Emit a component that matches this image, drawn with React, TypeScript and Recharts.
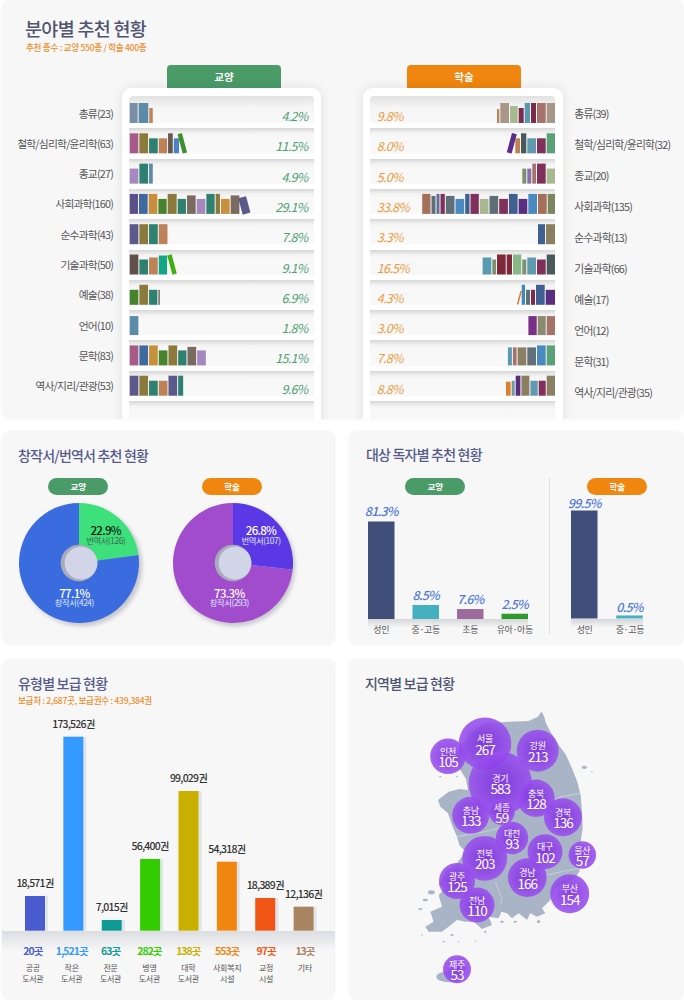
import {
  Bar,
  BarChart,
  Cell,
  LabelList,
  Pie,
  PieChart,
  Scatter,
  ScatterChart,
  XAxis,
  YAxis,
  ZAxis,
} from "recharts";

const FONT = '"Noto Sans CJK KR", "Noto Sans", sans-serif';
const GREEN = "#4a9b68";
const ORANGE = "#f0860f";
const TITLE = "#565a8c";

// shelves
const liberalLabels = ["총류(23)", "철학/심리학/윤리학(63)", "종교(27)", "사회과학(160)", "순수과학(43)", "기술과학(50)", "예술(38)", "언어(10)", "문학(83)", "역사/지리/관광(53)"];
const liberalShares = ["4.2%", "11.5%", "4.9%", "29.1%", "7.8%", "9.1%", "6.9%", "1.8%", "15.1%", "9.6%"];
const academicLabels = ["총류(39)", "철학/심리학/윤리학(32)", "종교(20)", "사회과학(135)", "순수과학(13)", "기술과학(66)", "예술(17)", "언어(12)", "문학(31)", "역사/지리/관광(35)"];
const academicShares = ["9.8%", "8.0%", "5.0%", "33.8%", "3.3%", "16.5%", "4.3%", "3.0%", "7.8%", "8.8%"];

const liberalBookWidths = [
  [9, 10.6, 4.5],
  [9.7, 9.7, 9.7, 9.3, 5.7, 6.3, 5.5],
  [9.7, 9.7, 4.7],
  [9.3, 9.7, 9.7, 9.3, 10, 9.3, 9.7, 9.7, 9.3, 5.3, 9.7, 9.7, 9],
  [9.7, 9.7, 9.7, 9.7],
  [9.7, 9.7, 9.7, 9.3, 1.7, 5.5],
  [9.7, 9.7, 9.3, 2.5],
  [9.7],
  [9.7, 9.7, 9.7, 9.7, 9.7, 9.3, 9.7, 9.7],
  [9.7, 9.7, 9.7, 9.7, 9.7, 6],
];
const liberalBookHeights = [
  [20, 20, 15],
  [20, 20, 15, 15, 20, 15, 20],
  [15, 20, 20],
  [20, 20, 20, 15, 20, 15, 18.5, 15, 20, 20, 15, 18.5, 17],
  [20, 20, 20, 20],
  [20, 15, 17, 19, 0, 20],
  [15, 20, 15, 15],
  [19],
  [20, 20, 20, 15, 20, 15, 18.5, 15],
  [20, 20, 15, 15, 20, 20],
];
const liberalBookColors = [
  ["#7b8ea8", "#5b8ba8", "#bd8258"],
  ["#a55a88", "#8c7a3c", "#2e8070", "#bd8258", "#66584f", "#4f80c0", "#3f8f2a"],
  ["#a588bd", "#2e8070", "#5b8ba8"],
  ["#5b4f8a", "#3f6aa0", "#c8903c", "#47832f", "#8c7a3c", "#2e8070", "#7a6a5f", "#a588bd", "#2e8070", "#8c7a3c", "#c8903c", "#7a6a5f", "#5a5a8a"],
  ["#5b5a8a", "#8c7a3c", "#2e8070", "#bd8258"],
  ["#5f5049", "#2e8070", "#bd8258", "#12a586", "none", "#3fae10"],
  ["#47832f", "#8c7a3c", "#2e8070", "#7a6a5f"],
  ["#5b8ba8"],
  ["#a55a88", "#3f6aa0", "#c8903c", "#47832f", "#8c7a3c", "#2e8070", "#7a6a5f", "#a588bd"],
  ["#5b5a8a", "#8c7a3c", "#2e8070", "#bd8258", "#5b5a8a", "#2e8070"],
];
const liberalTilts: Record<string, number> = { "1-6": -15, "3-12": -15, "5-5": -15 };

const academicBookWidths = [
  [9.3, 9.7, 6, 6.3, 6, 8.7, 9.7, 3.3],
  [9.3, 9.7, 9.7, 6.3, 5.7, 6],
  [9.3, 9.7, 4.7, 5, 5],
  [8.3, 9.7, 9.7, 9.7, 9.7, 9.7, 9.7, 9.7, 9.3, 5.3, 9.7, 9.7, 5.3, 4, 5, 9.3],
  [10, 8],
  [9.3, 9.7, 9.7, 5, 9.3, 6.3, 9.7, 4.7, 9.7],
  [10.3, 9.7, 5, 5, 4.3, 0.6, 2.5],
  [9.3, 9, 9.3],
  [9.3, 9.7, 9.7, 9.7, 4.7, 5],
  [9.3, 8, 8.3, 9, 5.7, 4, 5.7],
];
const academicBookHeights = [
  [20, 20, 20, 20, 15, 17, 20, 14],
  [20, 15, 15, 20, 15, 20],
  [15, 20, 20, 15, 15],
  [20, 20, 20, 15, 20, 15, 18, 15, 20, 20, 15, 18, 20, 20, 18, 20],
  [20, 20],
  [20, 15, 17, 15, 20, 20, 20, 15, 17],
  [15, 20, 15, 15, 20, 0, 14],
  [19, 19, 19],
  [20, 20, 18, 18, 18, 18],
  [20, 15, 15, 20, 20, 15, 14],
];
const academicBookColors = [
  ["#a89688", "#a5736a", "#7c2a50", "#5a9ab0", "#7c2a50", "#a8b890", "#a89688", "#bd8258"],
  ["#5aa078", "#80305a", "#5f9ab0", "#4a5a5a", "#bd8258", "#5a2d8a"],
  ["#a8b890", "#80305a", "#a5736a", "#8a70a8", "#7d9070"],
  ["#7d8460", "#a5705a", "#4a8ac0", "#5a2d80", "#3f6090", "#80305a", "#5f6f78", "#a8b890", "#80305a", "#3f6090", "#4a8ac0", "#5f6f78", "#80305a", "#5f6f9a", "#5f6f78", "#a5705a"],
  ["#8a7f60", "#3f6090"],
  ["#4a5a5a", "#80305a", "#5f9ab0", "#7d9070", "#88b888", "#7c2a3a", "#7c2a3a", "#7d9070", "#5a9ab0"],
  ["#5a2d80", "#3f6090", "#7c2a50", "#5f7078", "#3a8ac0", "none", "#e07a30"],
  ["#a5736a", "#8a8a70", "#7a3088"],
  ["#5aa078", "#4a8ac0", "#5f7078", "#8a7f60", "#a5736a", "#5a9ab0"],
  ["#8a7f60", "#80305a", "#5f9ab0", "#8a7f60", "#5a2d80", "#6f9aa8", "#e0802a"],
];
const academicTilts: Record<string, number> = { "1-5": 15, "6-6": 15 };

// original / translated
const originLabels = ["번역서", "창작서"];
const liberalOrigin = [22.9, 77.1];
const liberalOriginCounts = [126, 424];
const academicOrigin = [26.8, 73.3];
const academicOriginCounts = [107, 293];

// readers. The printed figures and the drawn bars are not in proportion in the
// source, so the levels are read off the bars themselves.
const liberalReaders = ["성인", "중·고등", "초등", "유아·아동"];
const liberalReaderText = ["81.3%", "8.5%", "7.6%", "2.5%"];
const liberalReaderLevels = [81.3, 11.7, 8.3, 4.4];
const academicReaders = ["성인", "중·고등"];
const academicReaderText = ["99.5%", "0.5%"];
const academicReaderLevels = [99.5, 2.8];

// supply by library type, same note on levels
const typeNames = [["공공", "도서관"], ["작은", "도서관"], ["전문", "도서관"], ["병영", "도서관"], ["대학", "도서관"], ["사회복지", "시설"], ["교정", "시설"], ["기타"]];
const typePlaces = ["20곳", "1,521곳", "63곳", "282곳", "138곳", "553곳", "97곳", "13곳"];
const typeVolumes = ["18,571권", "173,526권", "7,015권", "56,400권", "99,029권", "54,318권", "18,389권", "12,136권"];
const typeLevels = [31040, 173526, 9570, 64130, 124950, 61720, 29250, 21470];
const typeColors = ["#4a5bd0", "#3399ff", "#0f9a96", "#33cc00", "#c9b000", "#f0860f", "#f05515", "#a98460"];

// supply by region
const regionNames = ["서울", "인천", "강원", "경기", "충북", "충남", "세종", "경북", "대전", "대구", "울산", "전북", "경남", "부산", "광주", "전남", "제주"];
const regionCounts = [267, 105, 213, 583, 128, 133, 59, 136, 93, 102, 57, 203, 166, 154, 125, 110, 53];
const regionEast = [143, 106, 195.7, 158.3, 194, 128.7, 159.7, 221, 170, 203, 240.3, 142.7, 185.3, 227.7, 115, 135, 115];
const regionSouth = [88.7, 101.3, 95.7, 128.3, 143.3, 160.3, 157, 162.3, 183, 196.7, 200, 203.3, 222.7, 238.7, 226, 250, 314.3];
const regionArea = [692, 317, 441, 1005, 350, 342, 169, 361, 262, 306, 190, 502, 376, 380, 324, 306, 196];

const shelfRows = [0, 1, 2, 3, 4, 5, 6, 7, 8, 9, 10];
const bookSlots = Array.from({ length: 16 }, (_, i) => `book${i}`);

function buildShelf(labels: string[], widths: number[][]) {
  return labels.map((label, row) => {
    const entry: Record<string, string | number> = { label, row };
    widths[row].forEach((w, i) => {
      entry[`book${i}`] = w;
    });
    return entry;
  });
}

function Book(props: any) {
  const { x, y, width, height, payload, slot, heights, colors, tilts } = props;
  const row = payload.row;
  const h = heights[row][slot];
  const fill = colors[row][slot];
  if (!h || !fill || fill === "none") return null;
  const left = Math.min(x, x + width);
  const w = Math.abs(width) - 1;
  const bottom = y + height;
  const tilt = tilts[`${row}-${slot}`];
  const transform = tilt ? `rotate(${tilt} ${left + w / 2} ${bottom - h / 2})` : undefined;
  return <rect x={left} y={bottom - h} width={w} height={h} fill={fill} transform={transform} />;
}

function Shelf({ left, labels, shares, widths, heights, colors, tilts, right }: any) {
  const data = buildShelf(labels, widths);
  const tick = (p: any) => {
    const i = p.index;
    const labelX = right ? 203.3 : 113;
    const labelY = right ? p.y + 5.6 + i * 0.7 : p.y + 5.5;
    return (
      <g>
        <text x={labelX} y={labelY} dy="0.36em" textAnchor={right ? "start" : "end"} fontSize={10.8} letterSpacing={-0.8} fill="#555">
          {labels[i]}
        </text>
        <text
          x={right ? 5.7 : 307.5}
          y={p.y + 12.9}
          textAnchor={right ? "start" : "end"}
          fontSize={12.5}
          letterSpacing={-0.7}
          fontStyle="italic"
          fill={right ? "#ec9a3c" : "#4f9f74"}
        >
          {shares[i]}
        </text>
      </g>
    );
  };
  return (
    <div style={{ position: "absolute", left, top: 92.7 }}>
      <BarChart
        width={right ? 314 : 314.67}
        height={315}
        data={data}
        layout="vertical"
        barCategoryGap={0}
        margin={{ top: 0, right: 0, bottom: 12, left: 0 }}
      >
        <XAxis type="number" hide domain={[0, 185]} reversed={right} />
        <YAxis
          type="category"
          dataKey="label"
          orientation={right ? "right" : "left"}
          width={right ? 129 : 129.67}
          axisLine={false}
          tickLine={false}
          interval={0}
          tick={tick}
        />
        {bookSlots.map((key, slot) => (
          <Bar
            key={key}
            dataKey={key}
            stackId="shelf"
            isAnimationActive={false}
            shape={(p: any) => <Book {...p} slot={slot} heights={heights} colors={colors} tilts={tilts} />}
          />
        ))}
      </BarChart>
    </div>
  );
}

function Bookcase({ left, rowLeft, width }: { left: number; rowLeft: number; width: number }) {
  return (
    <div
      style={{
        position: "absolute",
        left,
        top: 88,
        width,
        height: 350,
        background: "#fff",
        borderRadius: 9,
        boxShadow: "0 0 12px rgba(0,0,0,.1)",
      }}
    >
      {shelfRows.map((i) => (
        <div
          key={i}
          style={{
            position: "absolute",
            left: rowLeft,
            top: i === 0 ? 8 : 10 + i * 30.3,
            width: 185,
            height: i === 0 ? 27 : 25.3,
            borderRadius: i === 0 ? "4px 4px 0 0" : 0,
            background:
              i === 0
                ? "linear-gradient(#e2e2e2, #f6f6f6 45%, #f8f8f9)"
                : "linear-gradient(#d6d6d6, #f3f3f3 5px, #f8f8f9 9px)",
          }}
        />
      ))}
    </div>
  );
}

function Tab({ left, color, text }: { left: number; color: string; text: string }) {
  return (
    <div
      style={{
        position: "absolute",
        left,
        top: 65,
        width: 114,
        height: 23,
        background: color,
        borderRadius: "4px 4px 0 0",
        color: "#fff",
        fontSize: 10.5,
        fontWeight: 700,
        textAlign: "center",
        lineHeight: "23px",
      }}
    >
      {text}
    </div>
  );
}

function Pill({ left, top, color, text }: { left: number; top: number; color: string; text: string }) {
  return (
    <div
      style={{
        position: "absolute",
        left,
        top,
        width: 60,
        height: 16.5,
        background: color,
        borderRadius: 9,
        color: "#fff",
        fontSize: 8.5,
        fontWeight: 700,
        textAlign: "center",
        lineHeight: "16.5px",
      }}
    >
      {text}
    </div>
  );
}

function Card({ left, top, width, height, children }: any) {
  return (
    <div
      style={{
        position: "absolute",
        left,
        top,
        width,
        height,
        background: "#f7f7f8",
        borderRadius: 8,
        overflow: "hidden",
        boxShadow: "0 0 4px rgba(0,0,0,.04)",
      }}
    >
      {children}
    </div>
  );
}

function Title({ left, top, text, color = TITLE, size = 14, spacing = -0.8 }: any) {
  return (
    <div style={{ position: "absolute", left, top, fontSize: size, letterSpacing: spacing, lineHeight: "20px", fontWeight: 500, color, whiteSpace: "nowrap" }}>
      {text}
    </div>
  );
}

function OriginPie({ left, values, counts, colors, offsets, dark }: any) {
  const data = values.map((value: number, i: number) => ({ name: originLabels[i], value, count: counts[i] }));
  const renderLabel = (p: any) => {
    const [dx, dy] = offsets[p.index];
    const isDark = dark && p.index === 0;
    return (
      <g>
        <text x={p.cx + dx} y={p.cy + dy} textAnchor="middle" dy="0.36em" fontSize={11.5} letterSpacing={-0.7} fontWeight={500} fill={isDark ? "#0b1a10" : "#fff"}>
          {`${values[p.index]}%`}
        </text>
        <text x={p.cx + dx} y={p.cy + dy + 10} textAnchor="middle" dy="0.36em" fontSize={8.4} letterSpacing={-0.45} fill={isDark ? "#3d6a52" : "#dfe6ff"}>
          {`${originLabels[p.index]}(${counts[p.index]})`}
        </text>
      </g>
    );
  };
  const size = { width: 140, height: 140 };
  const center = { cx: 66, cy: 66 };
  const flat = { startAngle: 90, endAngle: -270, stroke: "none", isAnimationActive: false, dataKey: "value" };
  return (
    <div style={{ position: "absolute", left, top: 497.3 - 431 }}>
      <div style={{ position: "absolute", left: 2.5, top: 2.5, filter: "blur(2px)" }}>
        <PieChart {...size} margin={{ top: 0, right: 0, bottom: 0, left: 0 }}>
          <Pie data={[{ value: 1 }]} {...center} outerRadius={60} fill="rgba(70,70,90,.28)" {...flat} />
        </PieChart>
      </div>
      <div style={{ position: "absolute", left: 0, top: 0 }}>
        <PieChart {...size} margin={{ top: 0, right: 0, bottom: 0, left: 0 }}>
          <Pie data={data} {...center} outerRadius={60} {...flat} label={renderLabel} labelLine={false}>
            {data.map((d: any, i: number) => (
              <Cell key={d.name} fill={colors[i]} />
            ))}
          </Pie>
          <Pie data={[{ value: 1 }]} {...center} outerRadius={18.3} fill="#a9abba" {...flat} />
          <Pie data={[{ value: 1 }]} cx={68} cy={66} outerRadius={16.4} fill="#d2d5e8" {...flat} />
        </PieChart>
      </div>
    </div>
  );
}

function ReaderBars({ left, top, width, height, names, texts, levels, colors, labelOffset }: any) {
  const data = names.map((name: string, i: number) => ({ name, level: levels[i], text: texts[i] }));
  return (
    <div style={{ position: "absolute", left, top }}>
      <BarChart width={width} height={height + 42} data={data} barSize={26.5} margin={{ top: 20, right: 0, bottom: 0, left: 0 }}>
        <XAxis dataKey="name" height={22} axisLine={false} tickLine={false} interval={0} tick={{ fontSize: 9, letterSpacing: -0.4, fill: "#555" }} tickMargin={2} />
        <YAxis hide domain={[0, 100]} />
        <Bar dataKey="level" isAnimationActive={false}>
          {data.map((d: any, i: number) => (
            <Cell key={d.name} fill={colors[i]} />
          ))}
          <LabelList dataKey="text" position="top" offset={labelOffset} fontSize={12.5} letterSpacing={-0.8} fontWeight={500} fontStyle="italic" fill="#5078d8" />
        </Bar>
      </BarChart>
    </div>
  );
}

function TypeBars() {
  const data = typeVolumes.map((volume, i) => ({ volume, level: typeLevels[i], name: typeNames[i].join(" ") }));
  const tick = (p: any) => {
    const i = p.index;
    const x = p.x - 2.4 + i * 0.5;
    return (
      <g>
        <text x={x} y={251} dy="0.36em" textAnchor="middle" fontSize={10.5} letterSpacing={-1} fontWeight={700} fill={typeColors[i]}>
          {typePlaces[i]}
        </text>
        {typeNames[i].map((line, n) => (
          <text key={line} x={x} y={268.5 + n * 10.7} dy="0.36em" textAnchor="middle" fontSize={8} letterSpacing={-0.3} fill="#555">
            {line}
          </text>
        ))}
      </g>
    );
  };
  const barShape = (p: any) => (
    <g>
      <rect x={p.x + p.width} y={p.y} width={3} height={p.height} fill="#e1e4e9" />
      <rect x={p.x} y={p.y} width={p.width} height={p.height} fill={typeColors[p.index]} />
    </g>
  );
  return (
    <div style={{ position: "absolute", left: 15.5, top: 700 }}>
      <BarChart width={307} height={300} data={data} barSize={20} margin={{ top: 36.7, right: 0, bottom: 0, left: 0 }}>
        <XAxis dataKey="name" height={69.3} axisLine={false} tickLine={false} interval={0} tick={tick} />
        <YAxis hide domain={[0, 173526]} />
        <Bar dataKey="level" isAnimationActive={false} shape={barShape}>
          <LabelList dataKey="volume" position="top" offset={9} fontSize={10.5} letterSpacing={-0.8} fontWeight={500} fill="#333" />
        </Bar>
      </BarChart>
    </div>
  );
}

const coast =
  "M598 170 C606 178 608 190 612 205 L628 235 L652 272 L672 300 L690 340 L706 380 L716 420 L720 470 L722 520 L716 560 L714 610 L712 650 L700 668 L660 690 L640 700 L625 735 L600 760 L610 775 L585 785 L565 775 L555 795 L530 775 L510 790 L495 775 L478 770 L470 790 L440 785 L450 810 L420 822 L395 800 L370 800 L345 795 L320 815 L300 830 L260 830 L250 815 L275 800 L265 770 L300 755 L290 720 L310 700 L290 690 L310 650 L345 625 L370 590 L352 570 L345 545 L330 510 L318 475 L295 455 L288 435 L320 410 L352 402 L378 405 L372 372 L355 345 L340 320 L355 275 L385 235 L430 205 L500 200 L560 198 L588 185 Z";
const islets = [
  [325, 965, 42, 17], [727, 337, 8, 5], [750, 350, 2, 2], [295, 365, 4, 2], [345, 365, 3, 2], [268, 712, 10, 6], [250, 735, 8, 4],
  [235, 762, 6, 3], [240, 840, 2, 2], [305, 860, 4, 2], [350, 860, 2, 2], [400, 858, 2, 2], [480, 800, 6, 3], [520, 800, 5, 3],
  [590, 800, 5, 4], [430, 830, 4, 3], [330, 840, 5, 3],
];
const borders = ["M620 440 L660 425 L715 415", "M615 660 L660 650 L712 640", "M460 680 L480 730 L475 750", "M345 545 L430 530 L470 520"];

function KoreaMap() {
  return (
    <svg width={342} height={345} style={{ position: "absolute", left: 342, top: 655 }}>
      <g transform="scale(0.3333)">
        <path d={coast} fill="#a9b5c6" />
        {islets.map(([cx, cy, rx, ry]) => (
          <ellipse key={`${cx}-${cy}`} cx={cx} cy={cy} rx={rx} ry={ry} fill="#a9b5c6" />
        ))}
        {borders.map((d) => (
          <path key={d} d={d} fill="none" stroke="#c8cfdb" strokeWidth={3} />
        ))}
      </g>
    </svg>
  );
}

function RegionBubbles() {
  const data = regionNames.map((name, i) => ({
    name,
    count: regionCounts[i],
    east: regionEast[i],
    south: regionSouth[i],
    area: regionArea[i],
  }));
  const bubble = (p: any) => <circle cx={p.cx} cy={p.cy} r={p.width / 2} fill="url(#bubbleFill)" />;
  const caption = (p: any) => (
    <g>
      <text x={p.cx} y={p.cy - 4.7} dy="0.36em" textAnchor="middle" fontSize={9} letterSpacing={-0.3} fill="#fff">
        {p.payload.name}
      </text>
      <text x={p.cx} y={p.cy + 6} dy="0.36em" textAnchor="middle" fontSize={13.5} letterSpacing={-1} fill="#fff">
        {p.payload.count}
      </text>
    </g>
  );
  return (
    <div style={{ position: "absolute", left: 342, top: 655 }}>
      <svg width={0} height={0} style={{ position: "absolute" }}>
        <defs>
          <radialGradient id="bubbleFill">
            <stop offset="0%" stopColor="#7a2ae0" stopOpacity={0.88} />
            <stop offset="100%" stopColor="#9a50ee" stopOpacity={0.88} />
          </radialGradient>
        </defs>
      </svg>
      <ScatterChart width={342} height={345} margin={{ top: 0, right: 0, bottom: 0, left: 0 }}>
        <XAxis type="number" dataKey="east" hide domain={[0, 342]} />
        <YAxis type="number" dataKey="south" hide domain={[0, 345]} reversed />
        <ZAxis type="number" dataKey="area" domain={[0, 1005]} range={[0, 3157]} />
        <Scatter data={data} isAnimationActive={false} shape={bubble} />
        <Scatter data={data} isAnimationActive={false} shape={caption} />
      </ScatterChart>
    </div>
  );
}

export default function App() {
  return (
    <div style={{ position: "absolute", left: 0, top: 0, width: 684, height: 1000, overflow: "hidden", background: "#fff", fontFamily: FONT }}>
      <style>{"text{font-family:" + FONT + "}"}</style>

      <Card left={2} top={0} width={682} height={419}>
        <Title left={23} top={18} text="분야별 추천 현황" color="#50556f" size={18.5} spacing={-0.7} />
        <Title left={24} top={36.5} text="추천 종수 : 교양 550종 / 학술 400종" color="#ee8f2c" size={8.6} spacing={-0.3} />
        <Tab left={165} color={GREEN} text="교양" />
        <Tab left={405} color={ORANGE} text="학술" />
        <Bookcase left={120} rowLeft={7} width={199} />
        <Bookcase left={360.7} rowLeft={7.3} width={200} />
      </Card>
      <div style={{ position: "absolute", left: 0, top: 0 }}>
        <Shelf left={0} labels={liberalLabels} shares={liberalShares} widths={liberalBookWidths} heights={liberalBookHeights} colors={liberalBookColors} tilts={liberalTilts} />
        <Shelf left={371} labels={academicLabels} shares={academicShares} widths={academicBookWidths} heights={academicBookHeights} colors={academicBookColors} tilts={academicTilts} right />
      </div>

      <Card left={2} top={431} width={333} height={214}>
        <Title left={16} top={14} text="창작서/번역서 추천 현황" />
        <Pill left={46.3} top={47} color={GREEN} text="교양" />
        <Pill left={200} top={47} color={ORANGE} text="학술" />
        <OriginPie left={11.3} values={liberalOrigin} counts={liberalOriginCounts} colors={["#3de07a", "#3a6ce0"]} offsets={[[26.7, -32], [-4.6, 30.4]]} dark />
        <OriginPie left={164.7} values={academicOrigin} counts={academicOriginCounts} colors={["#5b38e6", "#a04ccc"]} offsets={[[28, -32], [-3.7, 30.4]]} />
      </Card>

      <Card left={349} top={431} width={335} height={214}>
        <Title left={17} top={13} text="대상 독자별 추천 현황" />
        <Pill left={56.3} top={47} color={GREEN} text="교양" />
        <Pill left={238.3} top={47} color={ORANGE} text="학술" />
        <div style={{ position: "absolute", left: 200, top: 47, width: 1, height: 156, background: "#dedfe2" }} />
        <div style={{ position: "absolute", left: 19, top: 188.3, width: 160, height: 9, background: "linear-gradient(#d5d6da, #f7f7f8)" }} />
        <div style={{ position: "absolute", left: 222, top: 188.3, width: 72, height: 9, background: "linear-gradient(#d5d6da, #f7f7f8)" }} />
        <ReaderBars left={9.75} top={48.3} width={178} height={120} names={liberalReaders} texts={liberalReaderText} levels={liberalReaderLevels} colors={["#3f4f7a", "#45b0c0", "#9c6a9c", "#2f9a2f"]} labelOffset={5} />
        <ReaderBars left={213.2} top={59.2} width={90.5} height={108.5} names={academicReaders} texts={academicReaderText} levels={academicReaderLevels} colors={["#3f4f7a", "#45b0c0"]} labelOffset={3} />
      </Card>

      <Card left={2} top={659} width={333} height={341}>
        <Title left={16} top={14} text="유형별 보급 현황" />
        <Title left={16} top={31} text="보급처 : 2,687곳, 보급권수 : 439,384권" color="#ee8f2c" size={8.6} spacing={-0.3} />
        <div style={{ position: "absolute", left: 0, top: 271.7, width: 333, height: 20, background: "linear-gradient(#dcdde1, #f7f7f8)" }} />
      </Card>
      <TypeBars />

      <Card left={349} top={659} width={335} height={341}>
        <Title left={16} top={14} text="지역별 보급 현황" color="#50556f" />
      </Card>
      <KoreaMap />
      <RegionBubbles />
    </div>
  );
}
